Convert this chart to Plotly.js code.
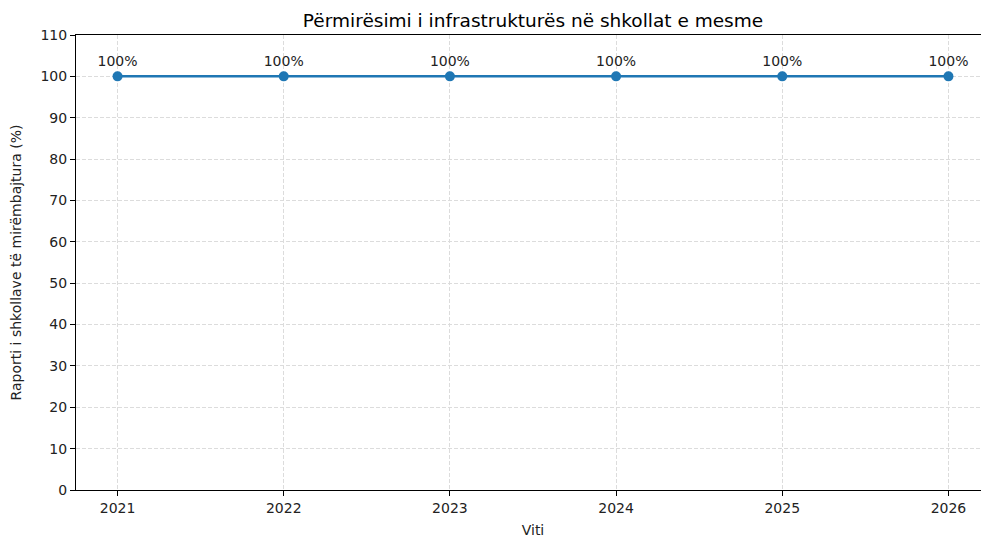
<!DOCTYPE html>
<html><head><meta charset="utf-8">
<script src="https://cdn.plot.ly/plotly-3.0.1.min.js"></script>
<style>html,body{margin:0;padding:0;overflow:hidden;background:#fff}#chart{width:990px;height:539px}</style>
</head><body><div id="chart"></div>
<script>
const years = [2021, 2022, 2023, 2024, 2025, 2026];
const ratios = [100, 100, 100, 100, 100, 100];
const labels = ratios.map(v => v + '%');
const yTicks = [0,10,20,30,40,50,60,70,80,90,100,110];
const font = {family: 'DejaVu Sans', size: 14, color: '#222'};
Plotly.newPlot('chart', [{
  x: years, y: ratios, text: labels,
  mode: 'lines+markers+text', textposition: 'top center',
  textfont: {family: 'DejaVu Sans', size: 14, color: '#222'},
  line: {color: '#1f77b4', width: 2.5},
  marker: {color: '#1f77b4', size: 10},
  hoverinfo: 'skip', cliponaxis: false
}], {
  width: 990, height: 539,
  margin: {l: 76, r: 0, t: 35, b: 49},
  paper_bgcolor: '#fff', plot_bgcolor: '#fff',
  font: font, showlegend: false,
  title: {text: 'Përmirësimi i infrastrukturës në shkollat e mesme', font: {family: 'DejaVu Sans', size: 18.5, color: '#000'}, x: 0.5, xref: 'paper', y: 1, yref: 'paper', yanchor: 'bottom', pad: {b: 8}},
  xaxis: {
    range: [2020.75, 2026.25], tickvals: years, ticktext: years.map(String),
    showline: true, linecolor: '#000', linewidth: 1, mirror: true,
    ticks: 'outside', ticklen: 5, tickcolor: '#000',
    showgrid: true, gridcolor: '#dcdcdc', griddash: '4px,2px', gridwidth: 1,
    zeroline: false,
    title: {text: 'Viti', font: font, standoff: 10}
  },
  yaxis: {
    range: [0, 110], tickvals: yTicks,
    showline: true, linecolor: '#000', linewidth: 1, mirror: true,
    ticks: 'outside', ticklen: 5, tickcolor: '#000',
    showgrid: true, gridcolor: '#dcdcdc', griddash: '4px,2px', gridwidth: 1,
    zeroline: false,
    title: {text: 'Raporti i shkollave të mirëmbajtura (%)', font: font, standoff: 15}
  }
}, {displayModeBar: false, staticPlot: true});
</script></body></html>
